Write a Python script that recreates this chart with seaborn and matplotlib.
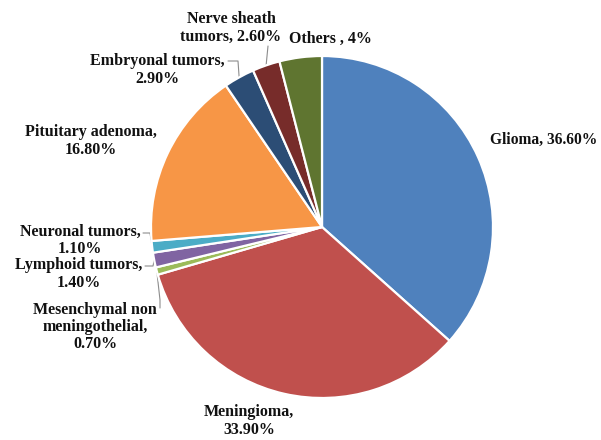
import numpy as np
import matplotlib
matplotlib.use("Agg")
import matplotlib.pyplot as plt
import seaborn as sns

# ---- data ----
categories = ["Glioma", "Meningioma", "Mesenchymal non\nmeningothelial", "Lymphoid tumors",
              "Neuronal tumors", "Pituitary adenoma", "Embryonal tumors", "Nerve sheath\ntumors", "Others "]
values = [36.6, 33.9, 0.7, 1.4, 1.1, 16.8, 2.9, 2.6, 4.0]
value_labels = ["36.60%", "33.90%", "0.70%", "1.40%", "1.10%", "16.80%", "2.90%", "2.60%", "4%"]

colors = ["#4F81BD", "#C0504D", "#9BBB59", "#8064A2", "#4BACC6",
          "#F79646", "#2C4D75", "#772C2A", "#5F7530"]

sns.set_theme(style="white")
plt.rcParams['font.family'] = ['Liberation Serif', 'DejaVu Serif']

W, H = 601, 440
fig = plt.figure(figsize=(W / 100, H / 100), dpi=100)
ax = fig.add_axes([0, 0, 1, 1])

def P(x, y):
    return x, H - y

cx, cy = P(322, 227)
R = 171
wedges, _ = ax.pie(values, colors=sns.color_palette(colors), startangle=90, counterclock=False,
                   center=(cx, cy), radius=R, frame=True,
                   wedgeprops=dict(edgecolor="white", linewidth=1.6))
ax.set_xlim(0, W)
ax.set_ylim(0, H)
ax.set_aspect('equal')
ax.axis('off')

# label text
texts = []
for c, v in zip(categories, value_labels):
    if c in ("Glioma", "Others ", "Nerve sheath\ntumors"):
        texts.append(f"{c}, {v}")
    else:
        texts.append(f"{c},\n{v}")

# layout: label anchor positions (pixel coords) and alignment
label_pos = [(490, 140, 'left'), (249, 421, 'center'), (95, 327, 'center'), (79, 274, 'center'),
             (80, 240, 'center'), (91, 141, 'center'), (157, 70, 'center'), (231, 28, 'center'),
             (330, 39, 'center')]
sizes = [11.2, 11.5, 11.5, 11.5, 11.5, 11.5, 11.5, 11.5, 11.5]
for t, (x, y, ha), fs in zip(texts, label_pos, sizes):
    ax.text(*P(x, y), t, ha=ha, va='center', fontsize=fs, fontweight='bold',
            color='#111111', linespacing=1.1)

# leader lines (label end pixel coords -> slice edge)
leaders = {4: [(143, 233), (150, 233)], 3: [(145, 266), (153, 266)],
           2: [(160, 308), (160, 300)], 6: [(228, 61), (238, 61)], 7: [(268, 46)]}
for i, pts in leaders.items():
    w = wedges[i]
    a = np.deg2rad((w.theta1 + w.theta2) / 2)
    ex, ey = cx + R * np.cos(a), cy + R * np.sin(a)
    xs = [P(*p)[0] for p in pts] + [ex]
    ys = [P(*p)[1] for p in pts] + [ey]
    ax.plot(xs, ys, color="#8c8c8c", lw=0.8, zorder=0.5)

fig.savefig("out.png", dpi=100)
